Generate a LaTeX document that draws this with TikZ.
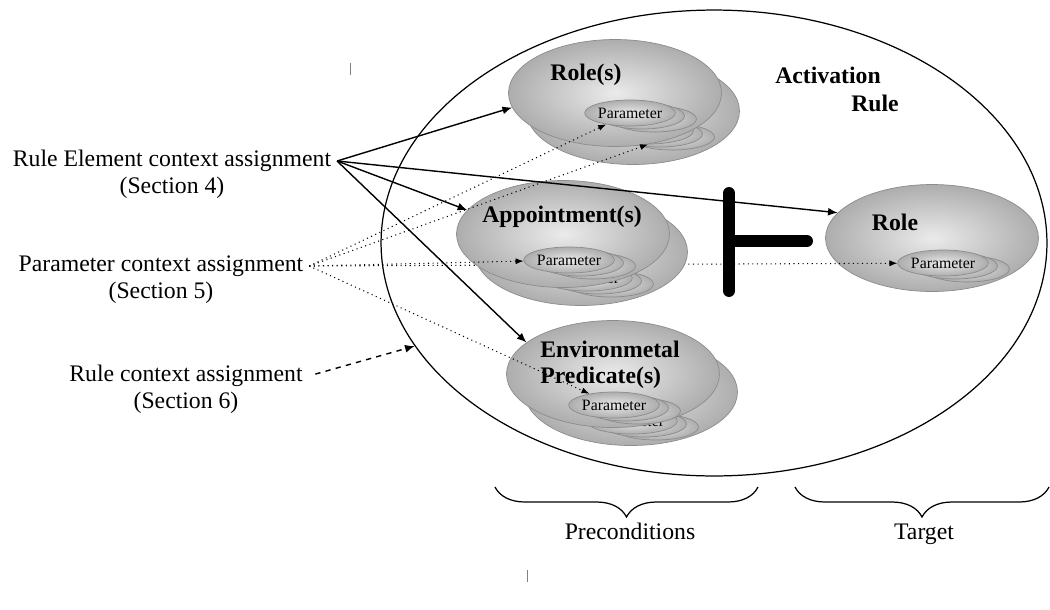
\documentclass[tikz,border=0pt]{standalone}
\usepackage{fontspec}
\setmainfont{Liberation Serif}
\usetikzlibrary{shapes.geometric,positioning,calc,arrows.meta,decorations.pathreplacing}

\tikzset{
  blob/.style={ellipse, draw=black!45, line width=0.4pt, inner color=black!8, outer color=black!32},
  elem/.style={blob, minimum width=4.26cm, minimum height=2.14cm, inner sep=0pt},
  param/.style={blob, minimum width=1.7cm, minimum height=0.52cm, inner sep=0pt, font=\fontsize{9}{10}\selectfont},
  lbl/.style={font=\fontsize{13.5}{15}\selectfont\bfseries, inner sep=1pt},
  txt/.style={font=\fontsize{13.5}{15}\selectfont, inner xsep=3pt, inner ysep=1pt, text height=9.5pt, text depth=3pt},
  prmline/.style={dotted, line width=0.6pt, -{Latex[length=4.5pt,width=3.5pt]}},
}

% a parameter with two copies fanned out behind it
\newcommand{\paramstack}[2]{%
  \foreach \k in {2,1}
    \node[param] at ($(#2)+(12*\k,3*\k)$) {};
  \node[param] (#1) at (#2) {Parameter};
}

\begin{document}
\begin{tikzpicture}[x=0.02cm, y=-0.02cm, >={Latex[length=5.5pt,width=4.5pt]}, line width=0.8pt]
  \path[use as bounding box, fill=white] (0,0) rectangle (1050,609);

  % the activation rule
  \node[ellipse, draw, line width=0.7pt, minimum width=13.32cm, minimum height=9.32cm] (rule) at (714,243) {};
  \node[lbl] (act) at (828,75) {Activation};
  \node[lbl] (actrule) at (875,103) {Rule};

  % the three kinds of assignment
  \node[txt] (re) at (172,161) {Rule Element context assignment};
  \node[txt, below=0pt of re] (re4) {(Section 4)};
  \node[txt] (pc) at (161,266) {Parameter context assignment};
  \node[txt, below=0pt of pc] (pc5) {(Section 5)};
  \node[txt] (rc) at (186,376) {Rule context assignment};
  \node[txt, below=0pt of rc] (rc6) {(Section 6)};

  % target role
  \node[elem] (role) at (932,238) {};
  \node[lbl] (rolelbl) at (895,222) {Role};
  \paramstack{prmrole}{943,263}
  \draw[prmline] (pc.east) -- (prmrole);

  % roles
  \node[elem] (rolesb) at (633,111) {};
  \paramstack{prmrolesb}{648,131}
  \node[elem] (roles) at (615,93) {};
  \paramstack{prmroles}{630,113}
  \node[lbl] (roleslbl) at (586,75) {Role(s)};

  % appointments
  \node[elem] (apptb) at (581,252) {};
  \paramstack{prmapptb}{587,278}
  \node[elem] (appt) at (563,234) {};
  \paramstack{prmappt}{569,260}
  \node[lbl] (apptlbl) at (562,217) {Appointment(s)};

  % environmental predicates
  \node[elem] (envb) at (631,392) {};
  \paramstack{prmenvb}{632,421}
  \node[elem] (env) at (613,374) {};
  \paramstack{prmenv}{614,405}
  \node[lbl, align=left] (envlbl) at (610,365) {Environmetal\\Predicate(s)};

  % rule element context
  \draw[->] (re.east) -- (roles.188);
  \draw[->] (re.east) -- (appt.166);
  \draw[->] (re.east) -- (env.160);
  \draw[->] (re.east) -- (role.165);

  % parameter context
  \draw[prmline] (pc.east) -- (prmroles);
  \draw[prmline] (pc.east) -- (prmrolesb.south);
  \draw[prmline] (pc.east) -- (prmappt);
  \draw[prmline] (pc.east) -- (prmenv);

  % rule context
  \draw[dashed, ->, shorten <=4pt] (rc.east) -- (rule.199);

  % preconditions entail the target
  \draw[line width=6.8pt, line cap=round] (729,193) -- (729,291) (729,241) -- (807,241);

  % braces
  \draw[decorate, decoration={brace, mirror, amplitude=0.6cm}, line width=0.7pt] (495,487) -- (758,487);
  \draw[decorate, decoration={brace, mirror, amplitude=0.6cm}, line width=0.7pt] (795,487) -- (1049,487);
  \node[txt] (pre) at (630,534) {Preconditions};
  \node[txt] (tgt) at (924,534) {Target};

  \draw[gray, line width=0.5pt] (350,63) -- (350,75);
  \draw[gray, line width=0.5pt] (527,570) -- (527,582);
\end{tikzpicture}
\end{document}
